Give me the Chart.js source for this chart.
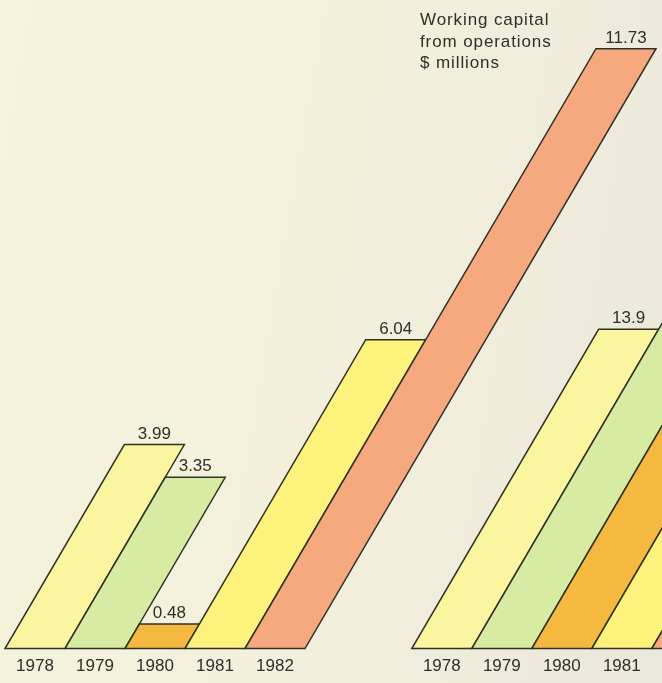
<!DOCTYPE html>
<html lang="en">
<head>
<meta charset="UTF-8">
<title>Working capital from operations</title>
<script src="https://cdn.jsdelivr.net/npm/chart.js@4"></script>
<style>
    html, body { margin: 0; padding: 0; overflow: hidden; }
    body { background: linear-gradient(100deg, #f6f3dc 0%, #f2efdc 55%, #ebe8dc 100%); }
    #wrap { position: relative; width: 662px; height: 683px; overflow: hidden; }
    #caption {
        position: absolute; left: 420px; top: 9px;
        font: 17px "Liberation Sans", Arial, sans-serif;
        line-height: 21.5px; letter-spacing: 0.9px; color: #2e2e2a;
    }
</style>
</head>
<body>
<div id="wrap">
    <canvas id="chart" width="662" height="686"></canvas>
    <div id="caption">Working capital<br>from operations<br>$ millions</div>
</div>
<script>
const years = ['1978', '1979', '1980', '1981', '1982'];
const workingCapital = [3.99, 3.35, 0.48, 6.04, 11.73];
const secondGroup = [13.9, 15.6, 18.2, 22.4, 27.0];
const barColors = ['#fbf59f', '#d8eba2', '#f4b93e', '#fdf37c', '#f6a87f'];

// layout of the slanted bars (x in bar widths)
const GROUP_GAP = 6.78;
const SLANT = 0.585;          // horizontal shift per pixel of bar height
const OUTLINE = '#303026';
const FONT = '"Liberation Sans", Arial, sans-serif';

const leftData = years.map((y, i) => ({ x: i, y: workingCapital[i] }));
const rightData = years.map((y, i) => ({ x: i + GROUP_GAP, y: secondGroup[i] }));

// draw each bar as a parallelogram leaning right, with its value above the top edge
const slantBars = {
    id: 'slantBars',
    beforeDatasetsDraw(chart) {
        const ctx = chart.ctx;
        const tops = [];
        ctx.save();
        chart.data.datasets.forEach((ds, di) => {
            const meta = chart.getDatasetMeta(di);
            meta.data.forEach((bar, i) => {
                const { x, y, base, width } = bar.getProps(['x', 'y', 'base', 'width'], true);
                const run = (base - y) * SLANT;
                const l = x - width / 2, r = x + width / 2;
                ctx.beginPath();
                ctx.moveTo(l, base);
                ctx.lineTo(r, base);
                ctx.lineTo(r + run, y);
                ctx.lineTo(l + run, y);
                ctx.closePath();
                ctx.fillStyle = barColors[i];
                ctx.fill();
                ctx.lineWidth = 1.5;
                ctx.lineJoin = 'miter';
                ctx.strokeStyle = OUTLINE;
                ctx.stroke();
                tops.push({ x: x + run, y: y, text: String(ds.data[i].y) });
            });
        });
        ctx.fillStyle = '#2e2e2a';
        ctx.font = '17px ' + FONT;
        ctx.textAlign = 'center';
        ctx.textBaseline = 'alphabetic';
        tops.forEach(t => ctx.fillText(t.text, t.x, t.y - 6));
        ctx.restore();
        return false;
    }
};

const tickPositions = years.map((y, i) => i).concat(years.map((y, i) => i + GROUP_GAP));
const tickLabels = years.concat(years);
const xMin = -35 / 60;
const xMax = xMin + 662 / 60;

new Chart(document.getElementById('chart'), {
    type: 'bar',
    data: {
        datasets: [
            { data: leftData, yAxisID: 'y', grouped: false, barPercentage: 1, categoryPercentage: 1 },
            { data: rightData, yAxisID: 'y2', grouped: false, barPercentage: 1, categoryPercentage: 1 }
        ]
    },
    plugins: [slantBars],
    options: {
        responsive: false,
        animation: false,
        devicePixelRatio: 1,
        layout: { autoPadding: false, padding: { left: 0, right: 0, top: 0, bottom: 1 } },
        plugins: { legend: { display: false }, tooltip: { enabled: false } },
        scales: {
            x: {
                type: 'linear',
                offset: false,
                min: xMin,
                max: xMax,
                grid: { display: false, drawTicks: false },
                border: { display: false },
                afterBuildTicks: scale => {
                    scale.ticks = tickPositions
                        .map((v, i) => ({ value: v, label: tickLabels[i] }))
                        .filter(t => t.value + 0.3 < xMax);
                },
                ticks: {
                    autoSkip: false,
                    maxRotation: 0,
                    padding: 8,
                    color: '#2e2e2a',
                    font: { family: FONT, size: 17 },
                    callback: (value, index, ticks) => ticks[index].label
                }
            },
            y: { display: false, min: 0, max: 648 / 51.1 },
            y2: { display: false, min: 0, max: 648 / 22.95 }
        }
    }
});
</script>
</body>
</html>
